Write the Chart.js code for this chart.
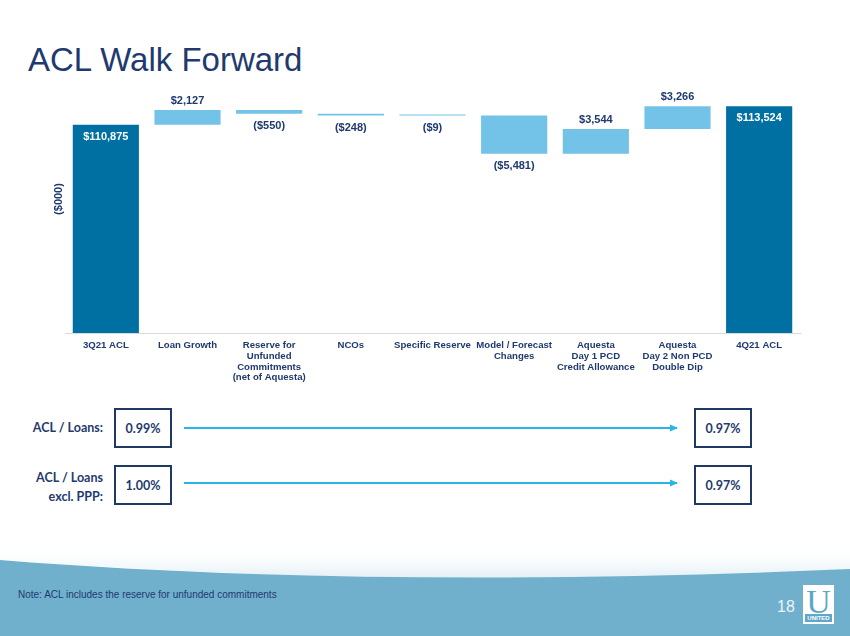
<!DOCTYPE html>
<html>
<head>
<meta charset="utf-8">
<script src="https://cdn.jsdelivr.net/npm/chart.js@4.4.1/dist/chart.umd.min.js"></script>
<style>
  body { margin: 0; background: #fff; }
  #page { position: relative; width: 850px; height: 636px; overflow: hidden; background: #fff; font-family: "Liberation Sans", Arial, sans-serif; }
  #title { position: absolute; left: 28px; top: 43px; font-size: 33px; line-height: 33px; color: #1F3A6E; }
  #chartWrap { position: absolute; left: 0; top: 0; width: 850px; height: 400px; }
  .lbl { position: absolute; font-family: Lato, "Open Sans", sans-serif; font-weight: 700; font-size: 12.5px; color: #1F3A6E; text-align: right; line-height: 19px; }
  .box { position: absolute; width: 54px; height: 36px; border: 2px solid #1F3864; box-sizing: content-box; font-family: Lato, "Open Sans", sans-serif; font-weight: 700; font-size: 12.5px; color: #1F3A6E; display: flex; align-items: center; justify-content: center; }
  #note { position: absolute; left: 18px; top: 589px; font-size: 10px; color: #1F3A6E; }
  #pnum { position: absolute; left: 777px; top: 598px; font-size: 16px; color: #EAF4F9; }
  #logo { position: absolute; left: 803px; top: 585px; width: 31px; height: 39px; background: #fff; }
  #logo .u { position: absolute; left: 0; width: 31px; top: -2px; text-align: center; font-family: "Liberation Serif", "DejaVu Serif", serif; font-size: 34px; color: #5FA7C6; }
  #logo .t { position: absolute; left: 2px; right: 2px; bottom: 2px; height: 8px; background: #5FA7C6; color: #fff; font-size: 6px; line-height: 8px; text-align: center; font-weight: 700; }
</style>
</head>
<body>
<div id="page">
  <svg width="850" height="636" style="position:absolute;left:0;top:0">
    <defs>
      <linearGradient id="fade" x1="0" y1="0" x2="0" y2="1">
        <stop offset="0" stop-color="#ffffff" stop-opacity="0"/>
        <stop offset="1" stop-color="#E3EFF5" stop-opacity="1"/>
      </linearGradient>
      <marker id="ah" markerWidth="8" markerHeight="8" refX="7" refY="4" orient="auto" markerUnits="userSpaceOnUse">
        <path d="M0,0.5 L8,4 L0,7.5 Z" fill="#29B6E6"/>
      </marker>
    </defs>
    <path d="M0,545 L850,545 L850,570 C600,582 300,582 0,560 Z" fill="url(#fade)"/>
    <path d="M0,560 C260,581 560,582 850,569 L850,636 L0,636 Z" fill="#70B0CD"/>
    <line x1="184" y1="428" x2="677" y2="428" stroke="#29B6E6" stroke-width="2" marker-end="url(#ah)"/>
    <line x1="184" y1="483" x2="677" y2="483" stroke="#29B6E6" stroke-width="2" marker-end="url(#ah)"/>
  </svg>
  <div id="title">ACL Walk Forward</div>
  <div id="chartWrap"><canvas id="aclChart" width="850" height="400"></canvas></div>

  <div class="lbl" style="left:20px;width:83px;top:418px;">ACL / Loans:</div>
  <div class="lbl" style="left:20px;width:83px;top:468px;">ACL / Loans<br>excl. PPP:</div>
  <div class="box" style="left:114px;top:408px;">0.99%</div>
  <div class="box" style="left:114px;top:465px;">1.00%</div>
  <div class="box" style="left:694px;top:408px;">0.97%</div>
  <div class="box" style="left:694px;top:465px;">0.97%</div>

  <div id="note">Note: ACL includes the reserve for unfunded commitments</div>
  <div id="pnum">18</div>
  <div id="logo"><div class="u">U</div><div class="t">UNITED</div></div>
</div>

<script>
// Categories (x axis labels, split into lines)
const categories = [
  ['3Q21 ACL'],
  ['Loan Growth'],
  ['Reserve for', 'Unfunded', 'Commitments', '(net of Aquesta)'],
  ['NCOs'],
  ['Specific Reserve'],
  ['Model / Forecast', 'Changes'],
  ['Aquesta', 'Day 1 PCD', 'Credit Allowance'],
  ['Aquesta', 'Day 2 Non PCD', 'Double Dip'],
  ['4Q21 ACL']
];

// ACL walk values ($000)
const startTotal = 110875;
const changes = [2127, -550, -248, -9, -5481, 3544, 3266];
const endTotal = 113524;

const Y_MIN = 81000;
const Y_MAX = 115000;

const navy = '#1F3A6E';
const totalColor = '#0070A3';
const changeColor = '#73C2E8';

// Build floating bars for the waterfall
const bars = [[Y_MIN, startTotal]];
const colors = [totalColor];
const values = [startTotal];
const isTotal = [true];
let running = startTotal;
changes.forEach(c => {
  bars.push([running, running + c]);
  colors.push(changeColor);
  values.push(c);
  isTotal.push(false);
  running += c;
});
bars.push([Y_MIN, endTotal]);
colors.push(totalColor);
values.push(endTotal);
isTotal.push(true);

function fmt(v) {
  const s = '$' + Math.abs(v).toLocaleString('en-US');
  return v < 0 ? '(' + s + ')' : s;
}

// Value labels on / above / below each bar, plus the unit label
const valueLabels = {
  id: 'valueLabels',
  afterDatasetsDraw(chart) {
    const ctx = chart.ctx;
    const meta = chart.getDatasetMeta(0);
    ctx.save();
    ctx.font = 'bold 11px "Liberation Sans", Arial, sans-serif';
    ctx.textAlign = 'center';
    ctx.textBaseline = 'middle';
    meta.data.forEach((bar, i) => {
      const top = Math.min(bar.y, bar.base);
      const bottom = Math.max(bar.y, bar.base);
      if (isTotal[i]) {
        ctx.fillStyle = '#ffffff';
        ctx.fillText(fmt(values[i]), bar.x, top + 12);
      } else if (values[i] >= 0) {
        ctx.fillStyle = navy;
        ctx.fillText(fmt(values[i]), bar.x, top - 9);
      } else {
        ctx.fillStyle = navy;
        ctx.fillText(fmt(values[i]), bar.x, bottom + 12);
      }
    });
    // unit label
    ctx.translate(chart.chartArea.left - 6, 199);
    ctx.rotate(-Math.PI / 2);
    ctx.fillStyle = navy;
    ctx.fillText('($000)', 0, 0);
    ctx.restore();
  }
};

const ctx = document.getElementById('aclChart').getContext('2d');
new Chart(ctx, {
  type: 'bar',
  data: {
    labels: categories,
    datasets: [{
      data: bars,
      backgroundColor: colors,
      borderWidth: 0,
      barPercentage: 0.81,
      categoryPercentage: 1,
      minBarLength: 1
    }]
  },
  options: {
    responsive: false,
    animation: false,
    layout: { padding: { left: 65, right: 50, top: 96, bottom: 0 } },
    plugins: {
      legend: { display: false },
      tooltip: { enabled: false }
    },
    scales: {
      x: {
        grid: { display: true, drawOnChartArea: false, drawTicks: false, color: 'rgba(0,0,0,0)' },
        border: { display: true, color: '#D9D9D9', width: 1 },
        ticks: {
          color: navy,
          font: { family: '"Liberation Sans", Arial, sans-serif', size: 9.6, weight: 'bold', lineHeight: 1.12 },
          padding: 7,
          maxRotation: 0,
          autoSkip: false
        },
        afterFit: axis => { axis.height = 67; }
      },
      y: {
        display: false,
        min: Y_MIN,
        max: Y_MAX
      }
    }
  },
  plugins: [valueLabels]
});
</script>
</body>
</html>
